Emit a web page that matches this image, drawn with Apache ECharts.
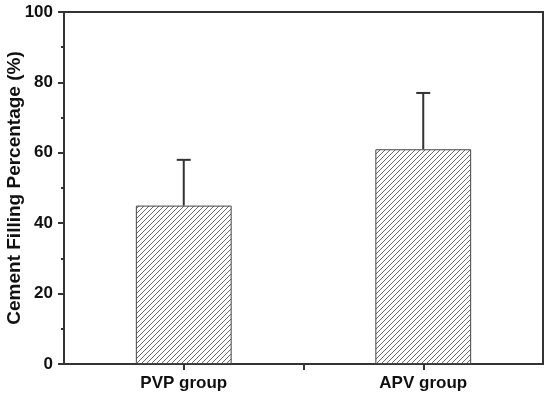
<!DOCTYPE html>
<html>
<head>
<meta charset="utf-8">
<script src="https://cdn.jsdelivr.net/npm/echarts@6/dist/echarts.min.js"></script>
<style>html,body{margin:0;padding:0;background:#fff;}#c{width:550px;height:398px;}</style>
</head>
<body>
<div id="c"></div>
<script>
var categories = ['PVP group', 'APV group'];
var means = [45, 61];
var errors = [13, 16];
var yTicks = [0, 20, 40, 60, 80, 100];
var yTitle = 'Cement Filling Percentage (%)';

function hatch() {
  var s = 5;
  var c = document.createElement('canvas');
  c.width = s; c.height = s;
  var g = c.getContext('2d');
  g.fillStyle = '#ffffff';
  g.fillRect(0, 0, s, s);
  g.strokeStyle = '#6a6a6a';
  g.lineWidth = 1;
  g.beginPath();
  g.moveTo(0, s); g.lineTo(s, 0);
  g.moveTo(-1, 1); g.lineTo(1, -1);
  g.moveTo(s - 1, s + 1); g.lineTo(s + 1, s - 1);
  g.stroke();
  return c;
}

var chart = echarts.init(document.getElementById('c'), null, {renderer: 'canvas'});
var font = '"Liberation Sans", Arial, sans-serif';
var tickStyle = {show: true, alignWithLabel: true, length: 6, lineStyle: {color: '#333', width: 2}};
chart.setOption({
  animation: false,
  grid: {left: 64, right: 7, top: 12, bottom: 34, containLabel: false, outerBoundsMode: 'none',
         show: true, borderColor: '#333', borderWidth: 2, backgroundColor: 'transparent'},
  xAxis: [{
    type: 'category', data: categories,
    axisLine: {lineStyle: {color: '#333', width: 2}},
    axisTick: {show: false},
    axisLabel: {color: '#111', fontFamily: font, fontWeight: 'bold', fontSize: 17, margin: 11}
  }, {
    type: 'category', data: categories.map(function () { return ''; }), position: 'bottom', z: 10,
    axisLine: {show: false}, splitLine: {show: false},
    axisLabel: {show: false},
    axisTick: tickStyle
  }, {
    type: 'category', data: [''], position: 'bottom', z: 10,
    axisLine: {show: false}, splitLine: {show: false},
    axisLabel: {show: false},
    axisTick: tickStyle
  }],
  yAxis: {
    type: 'value', min: yTicks[0], max: yTicks[yTicks.length - 1], interval: 20,
    name: yTitle, nameLocation: 'middle', nameGap: 40, nameMoveOverlap: false,
    nameTextStyle: {color: '#111', fontFamily: font, fontWeight: 'bold', fontSize: 19},
    axisLine: {show: true, lineStyle: {color: '#333', width: 2}},
    axisTick: {show: true, length: 6, lineStyle: {color: '#333', width: 2}},
    minorTick: {show: true, splitNumber: 2, length: 3, lineStyle: {color: '#333', width: 2}},
    splitLine: {show: false},
    axisLabel: {color: '#111', fontFamily: font, fontWeight: 'bold', fontSize: 17, margin: 11}
  },
  series: [{
    type: 'bar', data: means, barWidth: '40%', xAxisIndex: 0,
    itemStyle: {color: {image: hatch(), repeat: 'repeat'}, borderColor: '#444', borderWidth: 1}
  }, {
    type: 'custom', xAxisIndex: 0,
    data: means.map(function (m, i) { return [i, m, m + errors[i]]; }),
    renderItem: function (params, api) {
      var p0 = api.coord([api.value(0), api.value(1)]);
      var p1 = api.coord([api.value(0), api.value(2)]);
      var hw = 7;
      var st = {stroke: '#333', lineWidth: 2};
      return {type: 'group', children: [
        {type: 'line', shape: {x1: p0[0], y1: p0[1], x2: p1[0], y2: p1[1]}, style: st},
        {type: 'line', shape: {x1: p1[0] - hw, y1: p1[1], x2: p1[0] + hw, y2: p1[1]}, style: st}
      ]};
    },
    z: 3
  }]
});
</script>
</body>
</html>
